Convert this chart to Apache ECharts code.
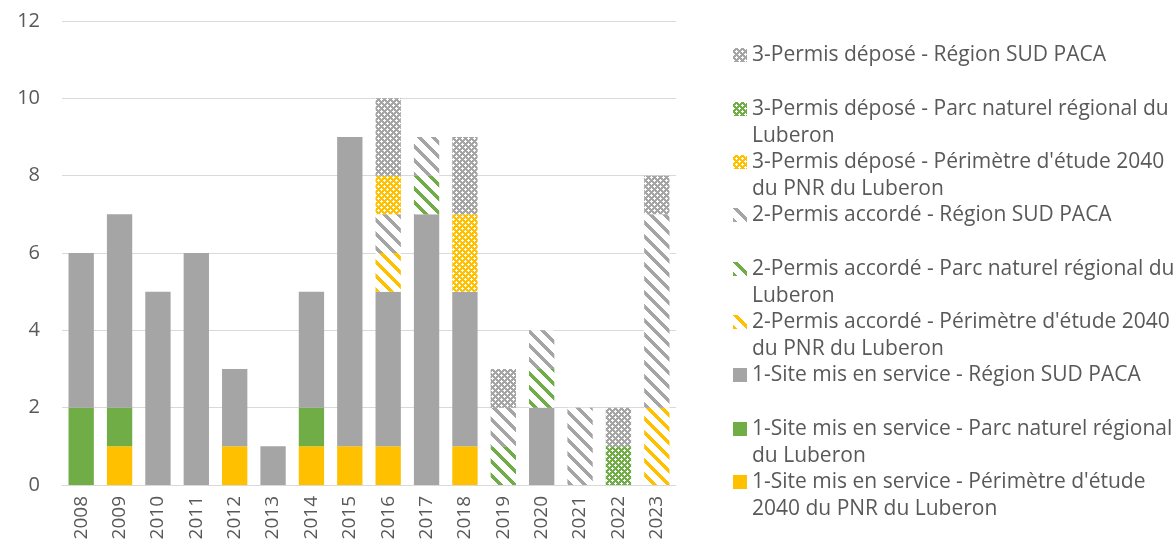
<!DOCTYPE html>
<html>
<head>
<meta charset="utf-8">
<script src="https://cdn.jsdelivr.net/npm/echarts@6/dist/echarts.min.js"></script>
<style>html,body{margin:0;padding:0;background:#fff}#c{width:1176px;height:548px}</style>
</head>
<body>
<div id="c"></div>
<script>
const years = ['2008','2009','2010','2011','2012','2013','2014','2015','2016','2017','2018','2019','2020','2021','2022','2023'];
const yTicks = [0, 2, 4, 6, 8, 10, 12];

const site_perim  = [0,1,0,0,1,0,1,1,1,0,1,0,0,0,0,0];
const site_pnr    = [2,1,0,0,0,0,1,0,0,0,0,0,0,0,0,0];
const site_region = [4,5,5,6,2,1,3,8,4,7,4,0,2,0,0,0];
const acc_perim   = [0,0,0,0,0,0,0,0,1,0,0,0,0,0,0,2];
const acc_pnr     = [0,0,0,0,0,0,0,0,0,1,0,1,1,0,0,0];
const acc_region  = [0,0,0,0,0,0,0,0,1,1,0,1,1,2,0,5];
const dep_perim   = [0,0,0,0,0,0,0,0,1,0,2,0,0,0,0,0];
const dep_pnr     = [0,0,0,0,0,0,0,0,0,0,0,0,0,0,1,0];
const dep_region  = [0,0,0,0,0,0,0,0,2,0,2,1,0,0,1,1];

const names = {
  site_perim: "1-Site mis en service - Périmètre d'étude 2040 du PNR du Luberon",
  site_pnr: "1-Site mis en service - Parc naturel régional du Luberon",
  site_region: "1-Site mis en service - Région SUD PACA",
  acc_perim: "2-Permis accordé - Périmètre d'étude 2040 du PNR du Luberon",
  acc_pnr: "2-Permis accordé - Parc naturel régional du Luberon",
  acc_region: "2-Permis accordé - Région SUD PACA",
  dep_perim: "3-Permis déposé - Périmètre d'étude 2040 du PNR du Luberon",
  dep_pnr: "3-Permis déposé - Parc naturel régional du Luberon",
  dep_region: "3-Permis déposé - Région SUD PACA"
};
const wrapped = {};
wrapped[names.dep_region] = "3-Permis déposé - Région SUD PACA";
wrapped[names.dep_pnr] = "3-Permis déposé - Parc naturel régional du\nLuberon";
wrapped[names.dep_perim] = "3-Permis déposé - Périmètre d'étude 2040\ndu PNR du Luberon";
wrapped[names.acc_region] = "2-Permis accordé - Région SUD PACA";
wrapped[names.acc_pnr] = "2-Permis accordé - Parc naturel régional du\nLuberon";
wrapped[names.acc_perim] = "2-Permis accordé - Périmètre d'étude 2040\ndu PNR du Luberon";
wrapped[names.site_region] = "1-Site mis en service - Région SUD PACA";
wrapped[names.site_pnr] = "1-Site mis en service - Parc naturel régional\ndu Luberon";
wrapped[names.site_perim] = "1-Site mis en service - Périmètre d'étude\n2040 du PNR du Luberon";

const YELLOW = '#FFC000', GREEN = '#70AD47', GRAY = '#A5A5A5';
const TXT = '#595959';
const FONT = 'Open Sans';

function hexRgb(h){return [parseInt(h.substr(1,2),16),parseInt(h.substr(3,2),16),parseInt(h.substr(5,2),16)];}
function makeTile(N, color, isOn){
  const c = document.createElement('canvas'); c.width = N; c.height = N;
  const ctx = c.getContext('2d'); const img = ctx.createImageData(N, N);
  const rgb = hexRgb(color);
  for (let y=0;y<N;y++) for (let x=0;x<N;x++){
    const i=(y*N+x)*4; const on = isOn(x,y,N);
    img.data[i]=on?rgb[0]:255; img.data[i+1]=on?rgb[1]:255; img.data[i+2]=on?rgb[2]:255; img.data[i+3]=255;
  }
  ctx.putImageData(img,0,0);
  return {image: c, repeat: 'repeat'};
}
function stripes(color){ return makeTile(14, color, (x,y,N)=>(((x-y)%N)+N)%N < 5); }
function checks(color){
  const white = new Set(['3,2','2,3','3,3','4,3','3,4','0,0','1,0','5,0','0,1','0,5']);
  return makeTile(6, color, (x,y)=>!white.has(x+','+y));
}

function bar(name, data, color){
  return {name, type:'bar', stack:'total', data, barCategoryGap:'34%',
    itemStyle:{color}, emphasis:{disabled:true}};
}
const series = [
  bar(names.site_perim, site_perim, YELLOW),
  bar(names.site_pnr, site_pnr, GREEN),
  bar(names.site_region, site_region, GRAY),
  bar(names.acc_perim, acc_perim, stripes(YELLOW)),
  bar(names.acc_pnr, acc_pnr, stripes(GREEN)),
  bar(names.acc_region, acc_region, stripes(GRAY)),
  bar(names.dep_perim, dep_perim, checks(YELLOW)),
  bar(names.dep_pnr, dep_pnr, checks(GREEN)),
  bar(names.dep_region, dep_region, checks(GRAY))
];

const legendOrder = [names.dep_region, names.dep_pnr, names.dep_perim, names.acc_region, names.acc_pnr, names.acc_perim, names.site_region, names.site_pnr, names.site_perim];
const legendCenters = [55, 109, 162, 215, 269, 322, 375, 429, 482];
const LH = 27;
const legends = legendOrder.map((n, i) => {
  const two = wrapped[n].indexOf('\n') >= 0;
  return {
    data: [n], left: 733, top: legendCenters[i] - (two ? LH*1.5 : LH/2),
    padding: 0, itemWidth: 14, itemHeight: 14, itemGap: 0, icon: 'rect',
    selectedMode: false,
    formatter: (nm) => two ? '\n' + wrapped[nm] : wrapped[nm],
    textStyle: {fontFamily: FONT, fontSize: 21, color: TXT, lineHeight: LH}
  };
});

const chart = echarts.init(document.getElementById('c'), null, {renderer:'canvas'});
chart.setOption({
  animation: false,
  textStyle: {fontFamily: FONT},
  grid: {left: 62, right: 500, top: 21, bottom: 63, containLabel: false},
  legend: legends,
  xAxis: {type:'category', data: years,
    axisLine:{lineStyle:{color:'#D9D9D9', width:1}}, axisTick:{show:false},
    axisLabel:{rotate:90, fontSize:19, color:TXT, fontFamily:FONT, margin:11}},
  yAxis: {type:'value', min: yTicks[0], max: yTicks[yTicks.length-1], interval: 2,
    axisLine:{show:false}, axisTick:{show:false},
    splitLine:{lineStyle:{color:'#D9D9D9', width:1}},
    axisLabel:{fontSize:20, color:TXT, fontFamily:FONT, margin:22}},
  series
});
</script>
</body>
</html>
